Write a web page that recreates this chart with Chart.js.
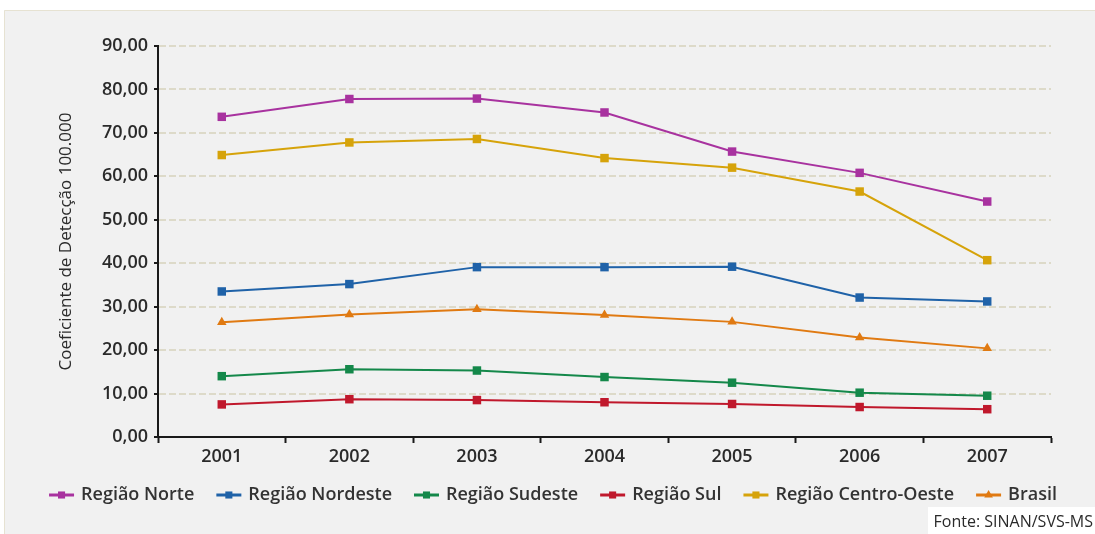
<!DOCTYPE html>
<html>
<head>
<meta charset="utf-8">
<script src="https://cdn.jsdelivr.net/npm/chart.js@4/dist/chart.umd.min.js"></script>
<style>
  html, body { margin: 0; padding: 0; background: #fff; }
  #wrap { position: relative; width: 1095px; height: 534px; }
</style>
</head>
<body>
<div id="wrap"><canvas id="coef"></canvas></div>
<script>
// ── Dados ─────────────────────────────────────────────────────
const ANOS = ['2001', '2002', '2003', '2004', '2005', '2006', '2007'];

const norte       = [73.7, 77.8, 77.9, 74.7, 65.7, 60.8, 54.2];
const nordeste    = [33.5, 35.2, 39.1, 39.1, 39.2, 32.1, 31.2];
const sudeste     = [14.0, 15.6, 15.3, 13.8, 12.5, 10.2, 9.5];
const sul         = [7.5, 8.7, 8.5, 8.0, 7.6, 6.9, 6.4];
const centroOeste = [64.9, 67.8, 68.6, 64.2, 62.0, 56.5, 40.7];
const brasil      = [26.4, 28.2, 29.4, 28.1, 26.5, 22.9, 20.4];

const Y_TICKS = [0, 10, 20, 30, 40, 50, 60, 70, 80, 90];

const FONT = '"Open Sans", "Noto Sans", sans-serif';

function serie(label, data, color, style) {
    return {
        label, data,
        borderColor: color, backgroundColor: color,
        borderWidth: 2, pointStyle: style || 'rect',
        pointRadius: style === 'triangle' ? 5.5 : 6,
        pointBorderWidth: 0, tension: 0,
    };
}

// ── Fundo cinza + nota de fonte ───────────────────────────────
const painel = {
    id: 'painel',
    beforeDraw(chart) {
        const { ctx, width, height } = chart;
        ctx.save();
        ctx.fillStyle = '#f1f1f1';
        ctx.fillRect(4, 10, width - 4, height - 10);
        ctx.strokeStyle = '#e6e2d2';
        ctx.lineWidth = 1;
        ctx.beginPath();
        ctx.moveTo(4.5, height); ctx.lineTo(4.5, 10.5); ctx.lineTo(width, 10.5);
        ctx.stroke();
        ctx.restore();
    },
    afterDraw(chart) {
        const { ctx, width, height } = chart;
        ctx.save();
        ctx.fillStyle = '#ffffff';
        ctx.fillRect(928, 507, width - 928, height - 507);
        ctx.fillStyle = '#2a2a2a';
        ctx.font = '16px ' + FONT;
        ctx.textAlign = 'right';
        ctx.textBaseline = 'middle';
        ctx.fillText('Fonte: SINAN/SVS-MS', width - 2, 522);
        ctx.restore();
    },
};

// ── Legenda: traço + marcador + texto ─────────────────────────
const legenda = {
    id: 'legenda',
    afterDraw(chart) {
        const { ctx } = chart;
        const sets = chart.data.datasets;
        const lineW = 25, gapTxt = 7, gapItem = 22, y = 495;
        ctx.save();
        ctx.font = '600 18px ' + FONT;
        const widths = sets.map(d => lineW + gapTxt + ctx.measureText(d.label).width);
        const total = widths.reduce((a, b) => a + b, 0) + gapItem * (sets.length - 1);
        let x = 553 - total / 2;
        sets.forEach((d, i) => {
            ctx.strokeStyle = d.borderColor;
            ctx.lineWidth = 3;
            ctx.beginPath();
            ctx.moveTo(x, y); ctx.lineTo(x + lineW, y);
            ctx.stroke();
            ctx.fillStyle = d.backgroundColor;
            Chart.helpers.drawPoint(ctx, { pointStyle: d.pointStyle, radius: 5, rotation: 0, borderWidth: 0 }, x + lineW / 2, y);
            ctx.fillStyle = '#333';
            ctx.textAlign = 'left';
            ctx.textBaseline = 'middle';
            ctx.fillText(d.label, x + lineW + gapTxt, y);
            x += widths[i] + gapItem;
        });
        ctx.restore();
    },
};

new Chart(document.getElementById('coef'), {
    type: 'line',
    data: {
        labels: ANOS,
        datasets: [
            serie('Região Norte', norte, '#a8329f'),
            serie('Região Nordeste', nordeste, '#1f62a8'),
            serie('Região Sudeste', sudeste, '#14884a'),
            serie('Região Sul', sul, '#c0182c'),
            serie('Região Centro-Oeste', centroOeste, '#d6a30a'),
            serie('Brasil', brasil, '#e07a12', 'triangle'),
        ],
    },
    options: {
        responsive: true, maintainAspectRatio: false, animation: false,
        layout: { padding: { left: 0, right: 44, top: 46, bottom: 0 } },
        plugins: { legend: { display: false }, tooltip: { enabled: false } },
        scales: {
            x: {
                offset: true,
                afterFit: s => { s.height = 97; },
                grid: { offset: true, drawOnChartArea: false, drawTicks: true, tickLength: 6, tickWidth: 2, tickColor: '#1a1a1a' },
                border: { display: true, color: '#1a1a1a', width: 2 },
                ticks: { color: '#2a2a2a', padding: 3, font: { family: FONT, size: 18, weight: '600' } },
            },
            y: {
                min: 0, max: 90,
                afterBuildTicks: s => { s.ticks = Y_TICKS.map(v => ({ value: v })); },
                afterFit: s => { s.width = 158; },
                grid: { color: '#dddac9', lineWidth: 2, drawTicks: true, tickLength: 4, tickWidth: 2, tickColor: '#1a1a1a', tickBorderDash: [] },
                border: { display: true, color: '#1a1a1a', width: 2, dash: [7, 3] },
                ticks: {
                    color: '#2a2a2a', padding: 6,
                    font: { family: FONT, size: 18, weight: '600' },
                    callback: v => v.toFixed(2).replace('.', ','),
                },
                title: {
                    display: true, text: 'Coeficiente de Detecção 100.000',
                    color: '#2a2a2a', padding: { top: 56, bottom: 0 },
                    font: { family: FONT, size: 17 },
                },
            },
        },
    },
    plugins: [painel, legenda],
});
</script>
</body>
</html>
